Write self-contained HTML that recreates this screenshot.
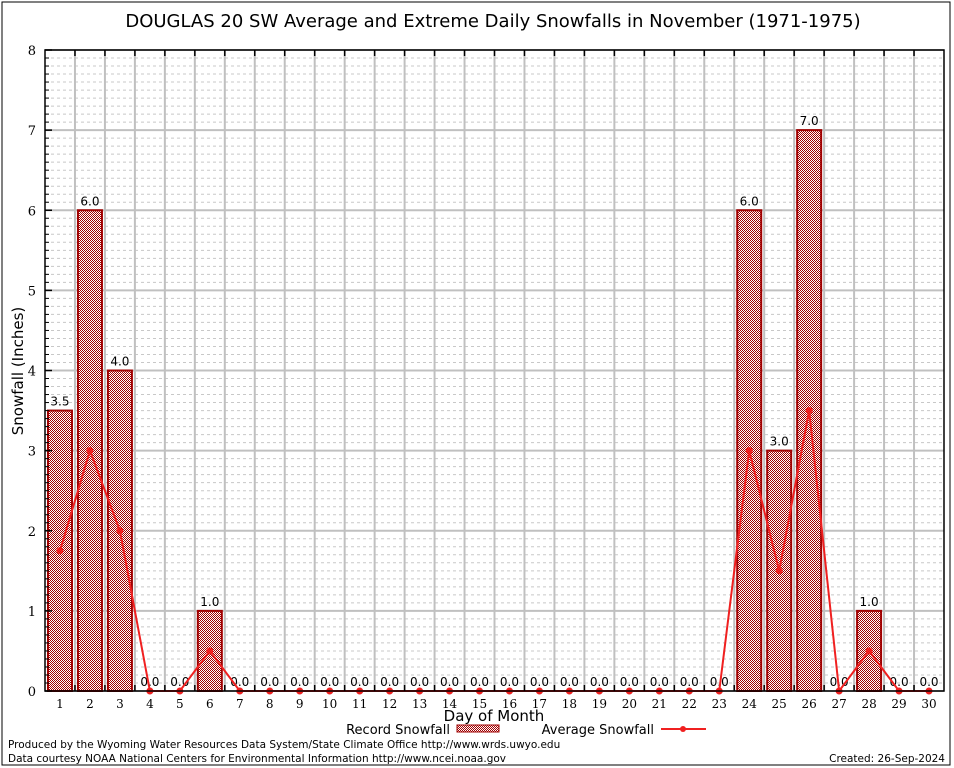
<!DOCTYPE html>
<html><head><meta charset="utf-8"><style>
body{margin:0;background:#fff}
svg{display:block;font-family:"DejaVu Sans","Liberation Sans",sans-serif}
.serif{font-family:"DejaVu Serif","Liberation Serif",serif}
</style></head><body>
<svg id="chart" width="954" height="768" xmlns="http://www.w3.org/2000/svg">
<defs>
<pattern id="chk" width="2" height="2" patternUnits="userSpaceOnUse">
<rect width="2" height="2" fill="#fff"/><rect width="1" height="1" fill="#a00000"/><rect x="1" y="1" width="1" height="1" fill="#a00000"/>
</pattern>
</defs>
<rect x="2" y="2" width="948" height="763" fill="none" stroke="#000" stroke-width="1"/>
<text x="493" y="27" font-size="18" text-anchor="middle">DOUGLAS 20 SW Average and Extreme Daily Snowfalls in November (1971-1975)</text>
<g id="grid"></g>
<g id="bars"></g>
<g id="line"></g>
<g id="axes"></g>
<text x="23" y="371" font-size="15" text-anchor="middle" transform="rotate(-90 23 371)">Snowfall (Inches)</text>
<text x="494" y="721" font-size="15" text-anchor="middle">Day of Month</text>
<g>
<text x="450" y="734" font-size="13" text-anchor="end">Record Snowfall</text>
<rect x="457" y="725" width="42" height="7" fill="url(#chk)" stroke="#a00000"/>
</g>
<g>
<text x="654" y="734" font-size="13" text-anchor="end">Average Snowfall</text>
<line x1="661" y1="729" x2="706" y2="729" stroke="#f02020" stroke-width="2"/>
<circle cx="683" cy="729" r="3" fill="#f02020"/>
</g>
<text x="8" y="748" font-size="10.5">Produced by the Wyoming Water Resources Data System/State Climate Office http://www.wrds.uwyo.edu</text>
<text x="8" y="762" font-size="10.5">Data courtesy NOAA National Centers for Environmental Information http://www.ncei.noaa.gov</text>
<text x="945" y="762" font-size="10.5" text-anchor="end">Created:  26-Sep-2024</text>
</svg>
<script>
const days=[1,2,3,4,5,6,7,8,9,10,11,12,13,14,15,16,17,18,19,20,21,22,23,24,25,26,27,28,29,30];
const recordSnow=[3.5,6,4,0,0,1,0,0,0,0,0,0,0,0,0,0,0,0,0,0,0,0,0,6,3,7,0,1,0,0];
const avgSnow=[1.75,3,2,0,0,0.5,0,0,0,0,0,0,0,0,0,0,0,0,0,0,0,0,0,3,1.5,3.5,0,0.5,0,0];
const yTicks=[0,1,2,3,4,5,6,7,8];
const NS="http://www.w3.org/2000/svg";
const L=45,R=944,T=50,B=691,yMax=8;
const x=d=>L+(d-0.5)*(R-L)/30;
const y=v=>B-v*(B-T)/yMax;
function mk(tag,attrs,parent,txt){const e=document.createElementNS(NS,tag);for(const k in attrs)e.setAttribute(k,attrs[k]);if(txt!==undefined)e.textContent=txt;document.getElementById(parent).appendChild(e);return e;}
for(let v=0;v<yMax*10;v++){if(v%10===0)continue;const g=mk('line',{x1:L,x2:R,y1:y(v/10),y2:y(v/10),stroke:'#c8c8c8','stroke-dasharray':'3,3','stroke-width':1},'grid');

}
yTicks.forEach(t=>{const g=mk('line',{x1:L,x2:R,y1:y(t),y2:y(t),stroke:'#c0c0c0','stroke-width':2},'grid');


const lb=mk('text',{x:L-9,y:y(t)+5,'font-size':13,'text-anchor':'end',class:'serif'},'axes',String(t));


mk('line',{x1:L,x2:L+7,y1:y(t),y2:y(t),stroke:'#000','stroke-width':1.5},'axes');});
for(let v=0;v<=yMax*10;v++)mk('line',{x1:L,x2:L+4,y1:y(v/10),y2:y(v/10),stroke:'#000'},'axes');
for(let i=1;i<30;i++){const xx=L+i*(R-L)/30;const g=mk('line',{x1:xx,x2:xx,y1:T,y2:B,stroke:'#c0c0c0','stroke-width':2},'grid');


mk('line',{x1:xx,x2:xx,y1:T,y2:T+6,stroke:'#000','stroke-width':1.5},'axes');
mk('line',{x1:xx,x2:xx,y1:B,y2:B-6,stroke:'#000','stroke-width':1.5},'axes');}
mk('rect',{x:L,y:T,width:R-L,height:B-T,fill:'none',stroke:'#000','stroke-width':1.5},'axes');
days.forEach((d,i)=>{const v=recordSnow[i];
if(v>0){const b=mk('rect',{x:x(d)-12,y:y(v),width:24,height:B-y(v),fill:'url(#chk)',stroke:'#a00000','stroke-width':2},'bars');

}
const lb=mk('text',{x:x(d),y:y(v)-5,'font-size':12,'text-anchor':'middle'},'bars',v.toFixed(1));


const xl=mk('text',{x:x(d),y:B+17,'font-size':12,'text-anchor':'middle',class:'serif'},'axes',String(d));

});
const pl=mk('polyline',{points:days.map((d,i)=>x(d)+','+y(avgSnow[i])).join(' '),fill:'none',stroke:'#f02020','stroke-width':2},'line');


days.forEach((d,i)=>{const c=mk('circle',{cx:x(d),cy:y(avgSnow[i]),r:3.5,fill:'#f02020'},'line');

});
</script>
</body></html>
